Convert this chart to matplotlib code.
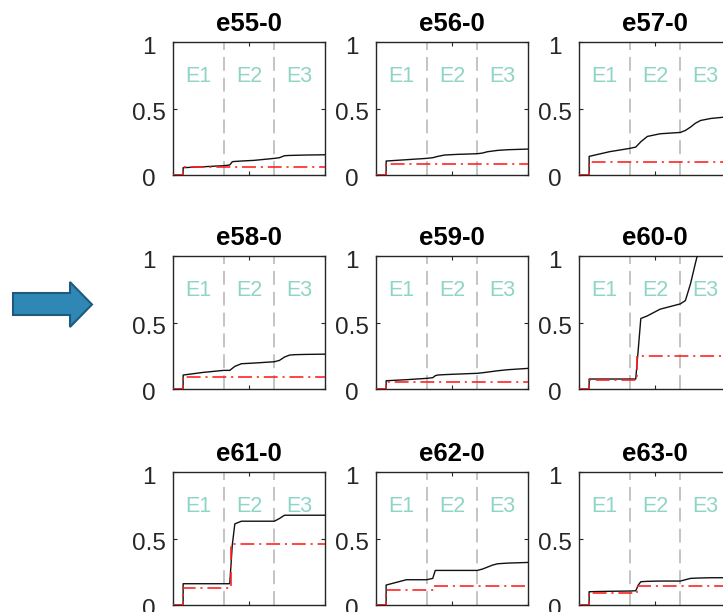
import matplotlib
matplotlib.use("Agg")
import matplotlib.pyplot as plt
from matplotlib.patches import Polygon
from matplotlib.transforms import ScaledTranslation

plt.rcParams['font.family'] = ['Liberation Sans', 'DejaVu Sans']
plt.rcParams['lines.scale_dashes'] = False

# ---- data -------------------------------------------------------------
titles = ["e55-0", "e56-0", "e57-0",
          "e58-0", "e59-0", "e60-0",
          "e61-0", "e62-0", "e63-0"]

epoch_labels = ["E1", "E2", "E3"]
epoch_bounds = [1.0, 2.0]

# common abscissa for the cumulative curves
x_grid = [0, 0.2, 0.2, 0.6, 1.0, 1.12, 1.17, 1.22, 1.35, 1.6,
          2.0, 2.1, 2.2, 2.3, 2.4, 2.6, 3.0]

e55_y = [0, 0, 0.055, 0.062, 0.07, 0.075, 0.10, 0.102, 0.105, 0.11,
         0.125, 0.13, 0.145, 0.147, 0.148, 0.15, 0.152]
e56_y = [0, 0, 0.105, 0.115, 0.125, 0.13, 0.135, 0.14, 0.15, 0.155,
         0.16, 0.165, 0.175, 0.18, 0.185, 0.19, 0.195]
e57_y = [0, 0, 0.14, 0.175, 0.20, 0.21, 0.23, 0.25, 0.29, 0.31,
         0.32, 0.335, 0.36, 0.39, 0.41, 0.425, 0.44]
e58_y = [0, 0, 0.105, 0.125, 0.14, 0.14, 0.155, 0.17, 0.19, 0.195,
         0.205, 0.215, 0.24, 0.255, 0.258, 0.26, 0.262]
e59_y = [0, 0, 0.062, 0.07, 0.08, 0.085, 0.10, 0.105, 0.108, 0.112,
         0.118, 0.122, 0.127, 0.132, 0.137, 0.145, 0.155]
e60_y = [0, 0, 0.075, 0.075, 0.075, 0.075, 0.30, 0.53, 0.55, 0.60,
         0.64, 0.665, 0.79, 0.95, 1.10, 1.25, 1.4]
e61_y = [0, 0, 0.16, 0.16, 0.16, 0.16, 0.45, 0.61, 0.63, 0.63,
         0.63, 0.65, 0.675, 0.675, 0.675, 0.675, 0.675]
e62_y = [0, 0, 0.15, 0.19, 0.19, 0.20, 0.26, 0.26, 0.26, 0.26,
         0.26, 0.27, 0.285, 0.30, 0.31, 0.315, 0.32]
e63_y = [0, 0, 0.10, 0.103, 0.105, 0.107, 0.15, 0.175, 0.178, 0.18,
         0.18, 0.19, 0.20, 0.202, 0.203, 0.205, 0.205]
curves = [e55_y, e56_y, e57_y, e58_y, e59_y, e60_y, e61_y, e62_y, e63_y]

# reference level: value after the onset, and after the second step
onset_x = 0.2
step_x = 1.15
ref_first = [0.06, 0.085, 0.10, 0.09, 0.055, 0.068, 0.125, 0.115, 0.088]
ref_second = [0.06, 0.085, 0.10, 0.09, 0.055, 0.25, 0.46, 0.14, 0.14]

# ---- layout (pixel geometry of the panel grid) ---------------------------
W, H = 723, 612
fig = plt.figure(figsize=(W / 100, H / 100), dpi=100)

col_left = [173, 376, 579]
row_top = [42, 256, 472]
pw, ph = 152, 133

spine_col = '#262626'
text_teal = '#8fd5c6'

for i, name in enumerate(titles):
    r, c = divmod(i, 3)
    left, top = col_left[c], row_top[r]
    ax = fig.add_axes([left / W, 1 - (top + ph) / H, pw / W, ph / H])

    for xb in epoch_bounds:
        ax.axvline(xb, color='#c4c4c4', lw=1.4, dashes=(10, 5), zorder=1)

    for k, lab in enumerate(epoch_labels):
        ax.text(k + 0.5, 0.74, lab, color=text_teal, fontsize=15.5,
                ha='center', va='center', zorder=2)

    ax.plot(x_grid, curves[i], color='#111111', lw=1.0, zorder=3)

    rx = [0, onset_x, onset_x, step_x, step_x, 3.0]
    ry = [0, 0, ref_first[i], ref_first[i], ref_second[i], ref_second[i]]
    ax.plot(rx, ry, color='#ff2020', lw=1.3, alpha=0.9,
            dashes=(10, 3.5, 1.5, 3.5), zorder=4)

    ax.set_xlim(0, 3)
    ax.set_ylim(0, 1)
    ax.set_xticks([0, 1.5, 3])
    ax.set_xticklabels([])
    ax.set_yticks([0, 0.5, 1])
    ax.set_yticklabels(["0", "0.5", "1"])
    ax.tick_params(direction='in', length=3, width=0.8, colors=spine_col,
                   top=True, right=True, labelsize=17.5, pad=17.6)
    for lbl in ax.get_yticklabels():
        lbl.set_horizontalalignment('center')
        lbl.set_transform(lbl.get_transform() +
                          ScaledTranslation(0, -3 / 100, fig.dpi_scale_trans))
    for sp in ax.spines.values():
        sp.set_color(spine_col)
        sp.set_linewidth(1.0)

    ax.set_title(name, fontsize=18.5, fontweight='bold', pad=8)

# arrow on the left
arrow_px = [(13, 293), (70, 293), (70, 282), (92, 304.5),
            (70, 327), (70, 315), (13, 315)]
arrow = Polygon([(x / W, 1 - y / H) for x, y in arrow_px], closed=True,
                facecolor='#2e87b4', edgecolor='#1f5a7e', lw=1.5,
                transform=fig.transFigure)
fig.add_artist(arrow)

fig.savefig("out.png", dpi=100)
